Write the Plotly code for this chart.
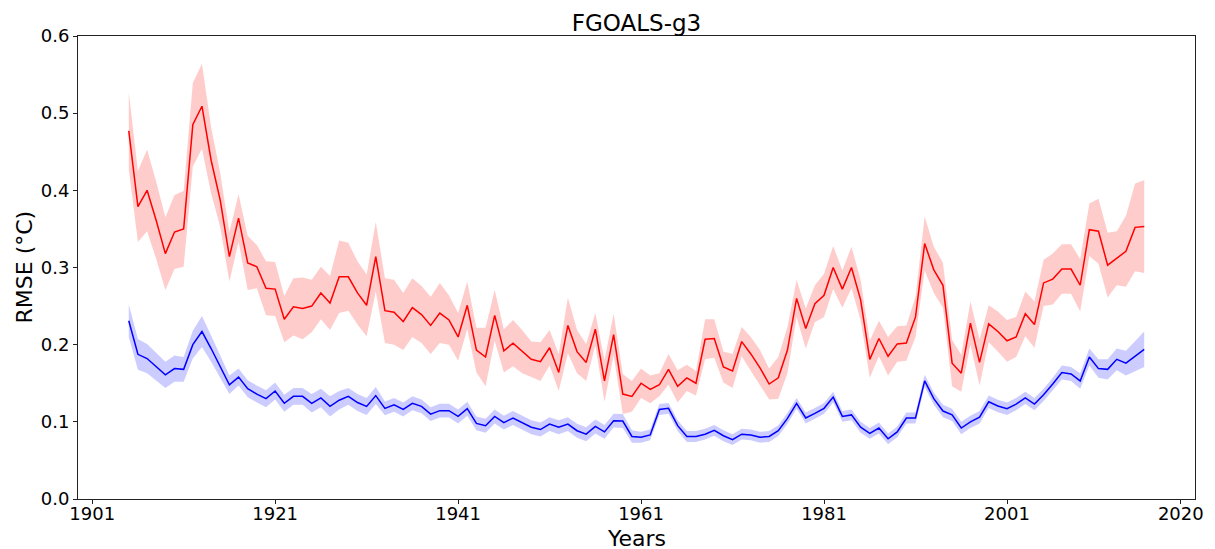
import plotly.graph_objects as go

years = list(range(1905, 2017))

red_mean = [0.477, 0.379, 0.400, 0.361, 0.318, 0.346, 0.350, 0.485, 0.509, 0.439,
            0.387, 0.314, 0.364, 0.306, 0.301, 0.273, 0.272, 0.233, 0.249, 0.247,
            0.250, 0.267, 0.254, 0.288, 0.288, 0.267, 0.251, 0.314, 0.244, 0.242,
            0.230, 0.248, 0.239, 0.225, 0.241, 0.232, 0.210, 0.251, 0.193, 0.184,
            0.238, 0.192, 0.202, 0.191, 0.181, 0.178, 0.196, 0.164, 0.225, 0.191,
            0.177, 0.220, 0.153, 0.213, 0.136, 0.133, 0.150, 0.142, 0.148, 0.168,
            0.146, 0.157, 0.150, 0.207, 0.208, 0.171, 0.166, 0.204, 0.188, 0.170,
            0.149, 0.157, 0.193, 0.260, 0.221, 0.253, 0.264, 0.300, 0.272, 0.300,
            0.258, 0.181, 0.208, 0.185, 0.201, 0.202, 0.236, 0.331, 0.297, 0.277,
            0.176, 0.163, 0.228, 0.177, 0.227, 0.217, 0.205, 0.210, 0.240, 0.226,
            0.280, 0.285, 0.298, 0.298, 0.277, 0.349, 0.347, 0.303, 0.312, 0.321,
            0.352, 0.353]

red_spread = [0.050, 0.046, 0.053, 0.050, 0.047, 0.048, 0.049, 0.054, 0.055, 0.043,
              0.035, 0.032, 0.031, 0.035, 0.028, 0.035, 0.035, 0.030, 0.037, 0.040,
              0.034, 0.034, 0.035, 0.047, 0.044, 0.041, 0.040, 0.045, 0.042, 0.042,
              0.037, 0.038, 0.037, 0.037, 0.039, 0.032, 0.031, 0.031, 0.029, 0.038,
              0.033, 0.028, 0.030, 0.028, 0.023, 0.025, 0.023, 0.024, 0.036, 0.028,
              0.024, 0.021, 0.027, 0.027, 0.026, 0.020, 0.019, 0.018, 0.015, 0.020,
              0.021, 0.017, 0.016, 0.026, 0.025, 0.020, 0.022, 0.019, 0.022, 0.023,
              0.020, 0.027, 0.030, 0.024, 0.026, 0.024, 0.028, 0.028, 0.024, 0.027,
              0.026, 0.024, 0.023, 0.025, 0.023, 0.023, 0.026, 0.035, 0.030, 0.029,
              0.030, 0.024, 0.028, 0.030, 0.024, 0.026, 0.027, 0.026, 0.029, 0.030,
              0.030, 0.033, 0.032, 0.032, 0.034, 0.034, 0.042, 0.042, 0.035, 0.046,
              0.057, 0.060]

blue_mean = [0.231, 0.1875, 0.182, 0.172, 0.161, 0.169, 0.168, 0.200, 0.217, 0.195,
             0.171, 0.148, 0.158, 0.143, 0.136, 0.130, 0.140, 0.124, 0.133, 0.133,
             0.124, 0.131, 0.120, 0.128, 0.133, 0.125, 0.120, 0.134, 0.1175, 0.122,
             0.116, 0.124, 0.120, 0.110, 0.1145, 0.1145, 0.107, 0.117, 0.098, 0.095,
             0.107, 0.099, 0.105, 0.099, 0.093, 0.090, 0.097, 0.093, 0.097, 0.0885,
             0.084, 0.094, 0.087, 0.1015, 0.101, 0.081, 0.080, 0.083, 0.116, 0.1175,
             0.095, 0.081, 0.081, 0.084, 0.089, 0.082, 0.077, 0.084, 0.083, 0.080,
             0.081, 0.0885, 0.1045, 0.124, 0.105, 0.111, 0.1175, 0.132, 0.107, 0.109,
             0.093, 0.085, 0.092, 0.078, 0.087, 0.105, 0.105, 0.153, 0.130, 0.114,
             0.109, 0.092, 0.100, 0.106, 0.126, 0.1205, 0.117, 0.123, 0.131, 0.123,
             0.135, 0.149, 0.164, 0.162, 0.153, 0.184, 0.169, 0.168, 0.181, 0.176,
             0.185, 0.194]

blue_spread = [0.021, 0.020, 0.019, 0.018, 0.017, 0.017, 0.016, 0.018, 0.020, 0.017,
               0.014, 0.012, 0.011, 0.011, 0.011, 0.011, 0.011, 0.011, 0.011, 0.011,
               0.012, 0.012, 0.013, 0.012, 0.011, 0.011, 0.011, 0.011, 0.009, 0.009,
               0.009, 0.009, 0.009, 0.009, 0.009, 0.009, 0.009, 0.009, 0.009, 0.009,
               0.009, 0.009, 0.009, 0.009, 0.009, 0.009, 0.009, 0.009, 0.009, 0.009,
               0.009, 0.009, 0.009, 0.009, 0.009, 0.008, 0.007, 0.007, 0.007, 0.007,
               0.007, 0.007, 0.007, 0.007, 0.007, 0.007, 0.007, 0.007, 0.007, 0.007,
               0.007, 0.007, 0.007, 0.007, 0.007, 0.007, 0.007, 0.007, 0.007, 0.007,
               0.007, 0.007, 0.007, 0.007, 0.007, 0.007, 0.007, 0.008, 0.008, 0.008,
               0.008, 0.008, 0.008, 0.008, 0.008, 0.008, 0.008, 0.008, 0.008, 0.008,
               0.008, 0.008, 0.009, 0.009, 0.010, 0.011, 0.012, 0.013, 0.014, 0.016,
               0.019, 0.023]

x_tickvals = [1901, 1921, 1941, 1961, 1981, 2001, 2020]
y_tickvals = [0.0, 0.1, 0.2, 0.3, 0.4, 0.5, 0.6]

FONT = "DejaVu Sans"
W, H = 1215, 549
# the page body adds an 8px offset; plot box wanted at x 78..1195, y 36..499 in the window
OFF = 8
PL, PR, PT, PB = 78 - OFF, 1195 - OFF, 36 - OFF, 499 - OFF
PW, PH = PR - PL, PB - PT


def band(mean, spread, fillcol, linecol):
    upper = [m + s for m, s in zip(mean, spread)]
    lower = [m - s for m, s in zip(mean, spread)]
    return [
        go.Scatter(x=years, y=upper, mode="lines", line=dict(width=0),
                   hoverinfo="skip", showlegend=False),
        go.Scatter(x=years, y=lower, mode="lines", line=dict(width=0),
                   fill="tonexty", fillcolor=fillcol, hoverinfo="skip",
                   showlegend=False),
        go.Scatter(x=years, y=mean, mode="lines",
                   line=dict(color=linecol, width=1.5), showlegend=False),
    ]


fig = go.Figure()
for tr in band(red_mean, red_spread, "rgba(255,0,0,0.2)", "#ff0000"):
    fig.add_trace(tr)
for tr in band(blue_mean, blue_spread, "rgba(0,0,255,0.2)", "#0000ff"):
    fig.add_trace(tr)

axis_common = dict(showline=True, linecolor="#222222", linewidth=1, mirror=True,
                   ticks="outside", ticklen=4, tickcolor="#222222", tickwidth=1,
                   showgrid=False, zeroline=False, automargin=False,
                   tickfont=dict(family=FONT, size=18, color="black"))

fig.update_layout(
    width=W, height=H,
    margin=dict(l=PL, r=W - PR, t=PT, b=H - PB),
    paper_bgcolor="white", plot_bgcolor="white",
    font=dict(family=FONT, color="black"),
    title=dict(text="FGOALS-g3", x=0.5, xref="paper", xanchor="center",
               y=1 - (22.5 - OFF) / H, yref="container", yanchor="middle",
               font=dict(family=FONT, size=23, color="black")),
    xaxis=dict(range=[1899.45, 2021.55], tickvals=x_tickvals,
               ticktext=[str(v) for v in x_tickvals], ticklabelstandoff=-6,
               **axis_common),
    yaxis=dict(range=[0, 0.6], tickvals=y_tickvals,
               ticktext=[f"{v:.1f}" for v in y_tickvals], **axis_common),
    annotations=[
        dict(text="Years", xref="paper", yref="paper", x=0.5,
             y=(PB - (538 - OFF)) / PH,
             xanchor="center", yanchor="middle", showarrow=False,
             font=dict(family=FONT, size=22, color="black")),
        dict(text="RMSE (°C)", xref="paper", yref="paper",
             x=((24 - OFF) - PL) / PW, y=0.5,
             xanchor="center", yanchor="middle", textangle=-90, showarrow=False,
             font=dict(family=FONT, size=22, color="black")),
    ],
)

fig.write_html("out.html")
